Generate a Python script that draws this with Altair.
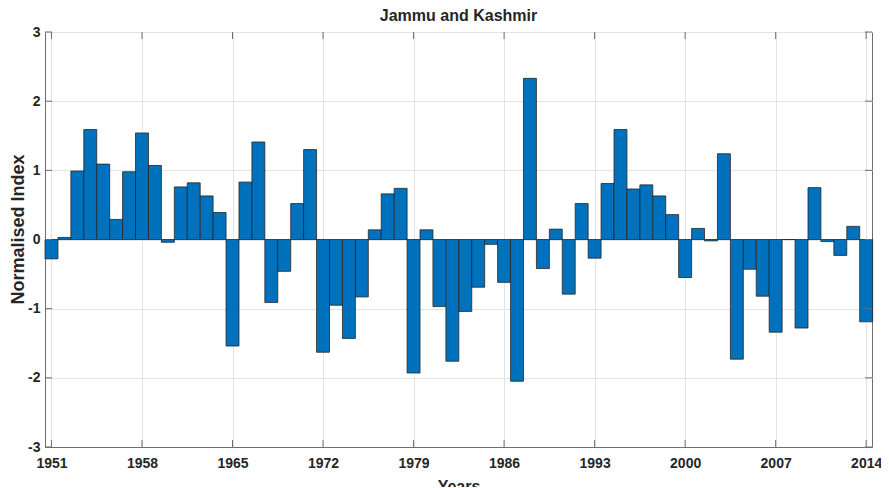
import altair as alt
import pandas as pd

years = list(range(1951, 2015))
values = [
    -0.28, 0.03, 0.99, 1.59, 1.09, 0.29, 0.98, 1.54, 1.07, -0.04,
    0.76, 0.82, 0.63, 0.39, -1.54, 0.83, 1.41, -0.91, -0.46, 0.52,
    1.30, -1.63, -0.95, -1.43, -0.83, 0.14, 0.66, 0.74, -1.93, 0.14,
    -0.97, -1.76, -1.04, -0.69, -0.07, -0.62, -2.05, 2.33, -0.42, 0.15,
    -0.79, 0.52, -0.27, 0.81, 1.59, 0.73, 0.79, 0.63, 0.36, -0.55,
    0.16, -0.02, 1.24, -1.73, -0.43, -0.82, -1.34, 0.00, -1.28, 0.75,
    -0.03, -0.23, 0.19, -1.19,
]
x_ticks = [1951, 1958, 1965, 1972, 1979, 1986, 1993, 2000, 2007, 2014]
y_ticks = [-3, -2, -1, 0, 1, 2, 3]

W, H = 827, 415
FONT = "Liberation Sans"
FRAME = "#6e6e6e"

df = pd.DataFrame({"year": years, "value": values})
xt = pd.DataFrame({"t": x_ticks})
yt = pd.DataFrame({"t": y_ticks})

xscale = alt.Scale(domain=[1950.5, 2014.45], nice=False, zero=False)
yscale = alt.Scale(domain=[-3, 3], nice=False)

bars = alt.Chart(df).transform_calculate(
    x0="datum.year - 0.5", x1="datum.year + 0.5"
).mark_bar(color="#0072BD", stroke="#262626", strokeWidth=0.8).encode(
    x=alt.X("x0:Q", scale=xscale,
            axis=alt.Axis(values=x_ticks, labelExpr="'' + datum.value", title="Years",
                          grid=True, gridColor="#e3e3e3", tickSize=0,
                          labelFont=FONT, labelFontSize=14, labelFontWeight="bold",
                          labelColor="#262626", labelPadding=9,
                          titleFont=FONT, titleFontSize=16, titleFontWeight="bold",
                          titleColor="#262626", titlePadding=8,
                          domainColor=FRAME, labelFlush=False)),
    x2="x1:Q",
    y=alt.Y("value:Q", scale=yscale,
            axis=alt.Axis(values=y_ticks, labelExpr="'' + datum.value",
                          title="Normalised Index",
                          grid=True, gridColor="#e3e3e3", tickSize=0,
                          labelFont=FONT, labelFontSize=14, labelFontWeight="bold",
                          labelColor="#262626", labelPadding=5,
                          titleFont=FONT, titleFontSize=18, titleFontWeight="bold",
                          titleColor="#262626", titleBaseline="alphabetic",
                          titleX=-22, titleY=197, titleAlign="center",
                          domainColor=FRAME, labelFlush=False)),
    y2=alt.datum(0),
)

tick_len = 7
xb = alt.Chart(xt).mark_rule(color=FRAME, strokeWidth=1).encode(
    x=alt.X("t:Q", scale=xscale), y=alt.value(H), y2=alt.value(H - tick_len))
xtop = alt.Chart(xt).mark_rule(color=FRAME, strokeWidth=1).encode(
    x=alt.X("t:Q", scale=xscale), y=alt.value(0), y2=alt.value(tick_len))
yl = alt.Chart(yt).mark_rule(color=FRAME, strokeWidth=1).encode(
    y=alt.Y("t:Q", scale=yscale), x=alt.value(0), x2=alt.value(tick_len))
yr = alt.Chart(yt).mark_rule(color=FRAME, strokeWidth=1).encode(
    y=alt.Y("t:Q", scale=yscale), x=alt.value(W), x2=alt.value(W - tick_len))

chart = alt.layer(bars, xb, xtop, yl, yr).properties(
    width=W, height=H,
    title=alt.TitleParams("Jammu and Kashmir", font=FONT, fontSize=16,
                          fontWeight="bold", color="#262626", anchor="middle",
                          offset=1),
    autosize=alt.AutoSizeParams(type="none"),
    padding={"left": 37, "top": 24, "right": 9, "bottom": 40},
).configure_view(stroke=FRAME, strokeWidth=1).configure_axis(
    domainWidth=1
)

chart.save("out.html", embed_options={"renderer": "svg", "actions": False})
